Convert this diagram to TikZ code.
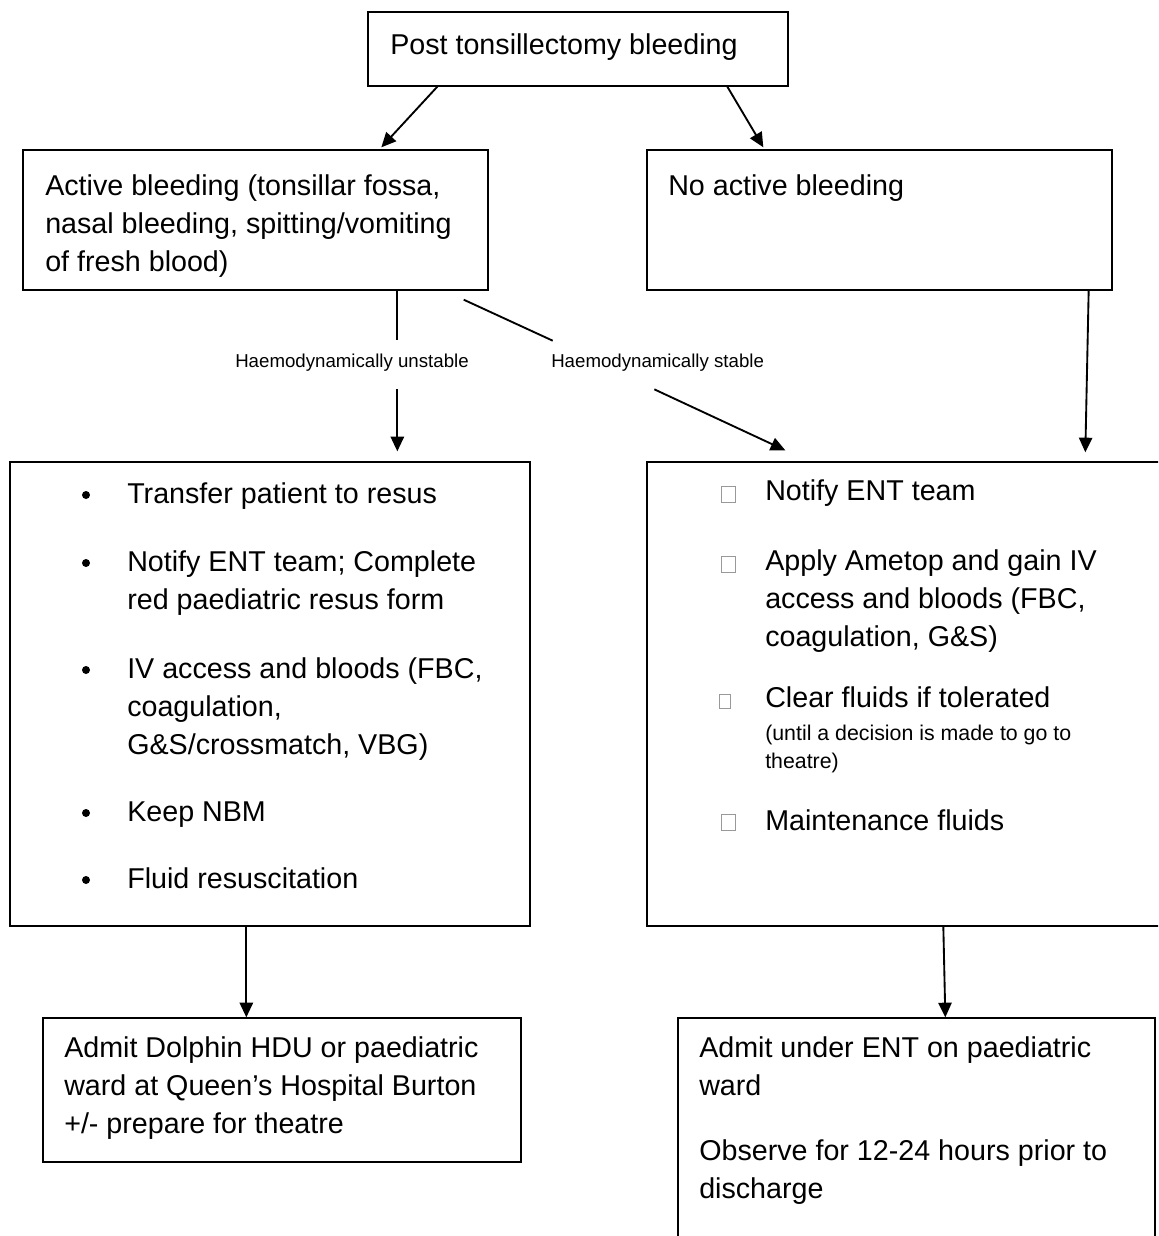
\documentclass[tikz,border=0pt]{standalone}
\usepackage{fontspec}
\setmainfont{Liberation Sans}
\usetikzlibrary{arrows.meta,calc,fit}
\begin{document}
\begin{tikzpicture}[x=0.75pt,y=-0.75pt,
  box/.style={draw, line width=1pt, inner sep=0pt, rectangle},
  ln/.style={line width=1.4pt},
  arr/.style={line width=1.4pt, -{Triangle[length=11pt,width=10pt]}},
  txt/.style={anchor=base west, inner sep=0pt, font=\fontsize{21.5}{26}\selectfont},
  stxt/.style={anchor=base west, inner sep=0pt, font=\fontsize{16}{19}\selectfont},
  lbl/.style={anchor=base west, inner sep=0pt, font=\fontsize{14}{17}\selectfont},
  bul/.style={circle, fill, inner sep=0pt, minimum size=6pt},
  sq/.style={draw=gray!80, line width=0.5pt, inner sep=0pt, minimum width=10.5pt, minimum height=12pt, anchor=south west},
  sqs/.style={sq, minimum width=8.25pt, minimum height=10.5pt},
]
\useasboundingbox (0,0) rectangle (1158,1236);
\clip (0,0) rectangle (1158,1236);

% boxes
\node[box, fit={(368,12) (788,86)}] (top) {};
\node[box, fit={(23,150) (488,290)}] (act) {};
\node[box, fit={(647,150) (1112,290)}] (noact) {};
\node[box, fit={(10,462) (530,926)}] (lbox) {};
\node[box, fit={(647,462) (1175,926)}] (rbox) {};
\node[box, fit={(43,1018) (521,1162)}] (adm) {};
\node[box, fit={(678,1018) (1155,1260)}] (ent) {};

% texts
\node[txt] (t0) at (390,54) {Post tonsillectomy bleeding};

\node[txt] (a1) at (45,195) {Active bleeding (tonsillar fossa,};
\node[txt] (a2) at (45,233) {nasal bleeding, spitting/vomiting};
\node[txt] (a3) at (45,271) {of fresh blood)};

\node[txt] (n1) at (668,195) {No active bleeding};

\node[lbl] (lblU) at (235,367) {Haemodynamically unstable};
\node[lbl] (lblS) at (551,367) {Haemodynamically stable};

% left bullet box
\node[bul] (b1) at (86,495) {};
\node[txt] (l1) at (127,503) {Transfer patient to resus};
\node[bul] (b2) at (86,563) {};
\node[txt] (l2) at (127,571) {Notify ENT team; Complete};
\node[txt] (l3) at (127,609) {red paediatric resus form};
\node[bul] (b3) at (86,670) {};
\node[txt] (l4) at (127,678) {IV access and bloods (FBC,};
\node[txt] (l5) at (127,716) {coagulation,};
\node[txt] (l6) at (127,754) {G\&S/crossmatch, VBG)};
\node[bul] (b4) at (86,813) {};
\node[txt] (l7) at (127,821) {Keep NBM};
\node[bul] (b5) at (86,880) {};
\node[txt] (l8) at (127,888) {Fluid resuscitation};

% right bullet box
\node[sq] (s1) at (721,503) {};
\node[txt] (r1) at (765,500) {Notify ENT team};
\node[sq] (s2) at (721,573) {};
\node[txt] (r2) at (765,570) {Apply Ametop and gain IV};
\node[txt] (r3) at (765,608) {access and bloods (FBC,};
\node[txt] (r4) at (765,646) {coagulation, G\&S)};
\node[sqs] (s3) at (719,709) {};
\node[txt] (r5) at (765,707) {Clear fluids if tolerated};
\node[stxt] (r6) at (765,740) {(until a decision is made to go to};
\node[stxt] (r7) at (765,768) {theatre)};
\node[sq] (s4) at (721,831) {};
\node[txt] (r8) at (765,830) {Maintenance fluids};

% bottom boxes
\node[txt] (d1) at (64,1057) {Admit Dolphin HDU or paediatric};
\node[txt] (d2) at (64,1095) {ward at Queen’s Hospital Burton};
\node[txt] (d3) at (64,1133) {+/- prepare for theatre};

\node[txt] (e1) at (699,1057) {Admit under ENT on paediatric};
\node[txt] (e2) at (699,1095) {ward};
\node[txt] (e3) at (699,1160) {Observe for 12-24 hours prior to};
\node[txt] (e4) at (699,1198) {discharge};

% connectors
\draw[arr] ($(top.south west)+(70,0)$) -- ($(act.north west)+(359,-2)$);
\draw[arr] ($(top.south west)+(360,0)$) -- ($(noact.north west)+(117,-2)$);

\draw[ln] ($(act.south west)+(375,0)$) -- ($(act.south west)+(375,49)$);
\draw[arr] ($(lbox.north west)+(388,-72)$) -- ($(lbox.north west)+(388,-10)$);

\draw[ln] ($(act.south east)+(-25,9)$) -- ($(act.south east)+(64,50)$);
\draw[arr] ($(rbox.north west)+(8,-72)$) -- ($(rbox.north west)+(139,-11)$);

\draw[arr] ($(noact.south east)+(-24,0)$) -- ($(rbox.north west)+(439,-9)$);

\draw[arr] ($(lbox.south west)+(237,0)$) -- ($(adm.north west)+(204,0)$);
\draw[arr] ($(rbox.south west)+(297,0)$) -- ($(ent.north west)+(268,0)$);
\end{tikzpicture}
\end{document}
